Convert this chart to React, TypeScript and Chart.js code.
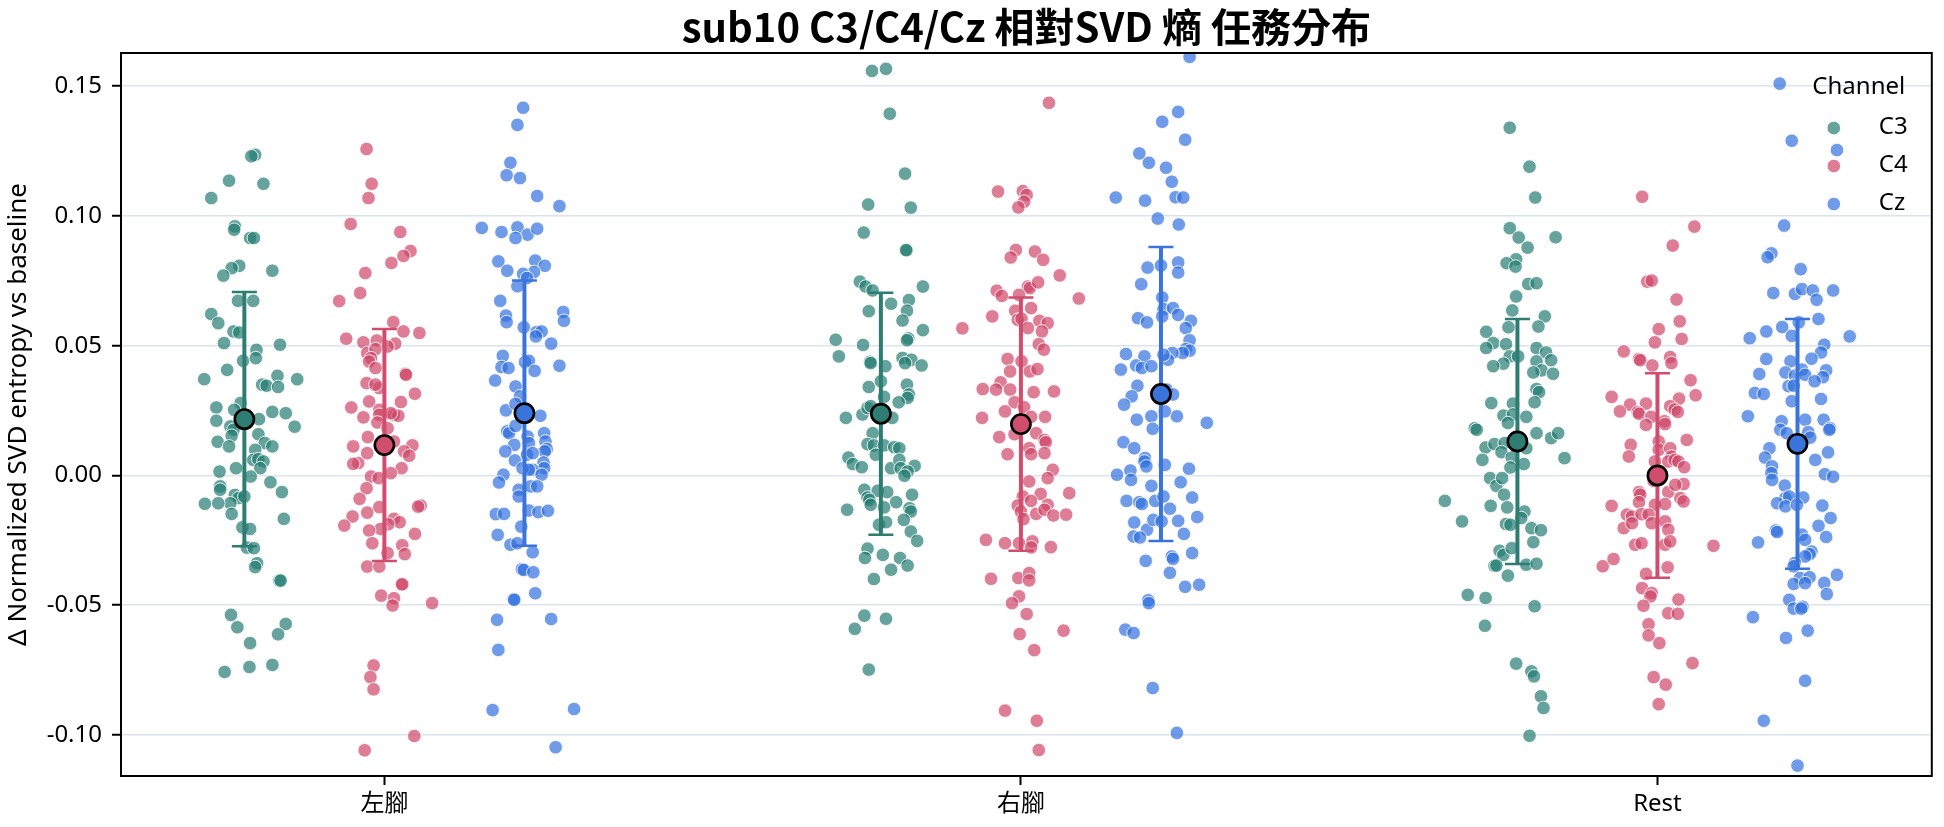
import React, { useEffect, useRef } from 'react';
import { Chart, registerables } from 'chart.js';

Chart.register(...registerables);

const FONT = '"Noto Sans", "Noto Sans CJK TC", sans-serif';
const TITLE_FONT = '"Noto Sans CJK TC", "Noto Sans", sans-serif';

const chartTitle = 'sub10 C3/C4/Cz 相對SVD 熵 任務分布';
const yAxisTitle = 'Δ Normalized SVD entropy vs baseline';
const legendTitle = 'Channel';

const conditions = ['左腳', '右腳', 'Rest'];
const channels = ['C3', 'C4', 'Cz'];
const yTickValues = [-0.1, -0.05, 0, 0.05, 0.1, 0.15];

// Each trial is [jitter, Δ entropy]; jitter is the strip spread in category units.
const leftC3: [number, number][] = [
  [0.017, 0.1236], [0.011, 0.123], [-0.024, 0.1136], [0.03, 0.1124], [-0.052, 0.1069], [-0.015, 0.096], [-0.016, 0.0947],
  [0.009, 0.0915], [0.015, 0.0915], [-0.008, 0.0808], [-0.02, 0.0799], [-0.033, 0.077], [0.044, 0.0789], [-0.01, 0.0673],
  [0.014, 0.0673], [-0.052, 0.0622], [-0.041, 0.0587], [-0.017, 0.0555], [-0.008, 0.0551], [-0.032, 0.051], [0.056, 0.0504],
  [0.019, 0.0484], [-0.002, 0.0442], [0.018, 0.0452], [-0.027, 0.0407], [-0.063, 0.0371], [0.052, 0.0384], [0.083, 0.0371],
  [0.028, 0.035], [0.035, 0.0346], [0.053, 0.0341], [-0.006, 0.0279], [-0.044, 0.0262], [-0.016, 0.0253], [0.044, 0.0245],
  [0.065, 0.024], [-0.044, 0.0211], [-0.022, 0.0189], [-0.017, 0.0176], [0.023, 0.0217], [0.079, 0.0188], [-0.02, 0.0153],
  [0.022, 0.0159], [-0.042, 0.013], [0.032, 0.0125], [-0.024, 0.0112], [0.044, 0.0112], [0.017, 0.0099], [0.014, 0.006],
  [0.022, 0.0063], [0.03, 0.0054], [0.025, 0.0028], [-0.039, 0.0015], [-0.013, 0.0028], [0.01, -0.0004], [0.041, -0.0026],
  [-0.038, -0.0042], [-0.038, -0.0055], [-0.015, -0.0075], [-0.009, -0.0087], [-0.022, -0.0107], [0.059, -0.0064],
  [-0.062, -0.0109], [-0.041, -0.0107], [-0.02, -0.0148], [0.0, -0.0081], [0.062, -0.0167], [-0.003, -0.02], [0.009, -0.0206],
  [0.004, -0.0278], [0.015, -0.028], [0.02, -0.0338], [0.017, -0.0353], [0.055, -0.0405], [0.057, -0.0405], [-0.021, -0.0537],
  [-0.011, -0.0585], [0.009, -0.0646], [0.065, -0.0572], [0.053, -0.0612], [-0.031, -0.0757], [0.008, -0.0738], [0.044, -0.073],
];

const leftC4: [number, number][] = [
  [-0.028, 0.1258], [-0.02, 0.1124], [-0.025, 0.1069], [-0.053, 0.0969], [0.025, 0.0938], [0.041, 0.0865], [0.03, 0.0846],
  [0.011, 0.0819], [-0.03, 0.078], [-0.038, 0.0703], [-0.071, 0.0672], [0.014, 0.0591], [0.03, 0.0555], [0.055, 0.0549],
  [-0.06, 0.0527], [-0.033, 0.0513], [-0.012, 0.052], [0.017, 0.0508], [0.005, 0.0497], [-0.027, 0.0472], [-0.014, 0.0487],
  [-0.021, 0.0452], [-0.024, 0.0439], [-0.014, 0.0414], [0.033, 0.0392], [0.034, 0.0388], [-0.028, 0.0356], [-0.008, 0.0337],
  [-0.014, 0.035], [0.048, 0.0315], [-0.024, 0.0285], [-0.008, 0.0253], [-0.052, 0.0262], [0.026, 0.0283], [0.015, 0.0234],
  [0.022, 0.023], [-0.033, 0.0224], [-0.008, 0.0234], [0.01, 0.024], [-0.011, 0.0204], [0.005, 0.0182], [-0.026, 0.0148],
  [-0.049, 0.0112], [0.015, 0.0131], [0.044, 0.0116], [0.031, 0.0093], [0.039, 0.0076], [-0.041, 0.0048], [-0.049, 0.0045],
  [-0.027, 0.0086], [0.027, 0.0028], [-0.021, -0.0004], [-0.009, -0.001], [0.01, 0.0009], [-0.028, -0.0049], [-0.039, -0.009],
  [0.057, -0.0116], [0.053, -0.012], [-0.008, -0.0122], [-0.027, -0.0143], [-0.05, -0.0158], [-0.063, -0.0193], [0.015, -0.0167],
  [0.024, -0.018], [0.006, -0.0188], [-0.006, -0.0206], [-0.024, -0.0212], [0.048, -0.0225], [-0.019, -0.0261], [0.005, -0.0299],
  [0.028, -0.0269], [0.032, -0.0303], [-0.027, -0.0351], [-0.008, -0.0351], [0.027, -0.0421], [0.028, -0.0419], [-0.005, -0.0463],
  [0.015, -0.0473], [0.013, -0.0501], [0.075, -0.0492], [-0.017, -0.0732], [-0.022, -0.0777], [-0.017, -0.0824], [0.047, -0.1004],
  [-0.031, -0.1059],
];

const leftCz: [number, number][] = [
  [-0.002, 0.1417], [-0.011, 0.1351], [-0.022, 0.1205], [-0.028, 0.1157], [-0.007, 0.1146], [0.02, 0.1077], [0.055, 0.1038],
  [-0.067, 0.0954], [-0.036, 0.0938], [-0.011, 0.0956], [0.005, 0.0928], [-0.014, 0.0915], [0.02, 0.0951], [-0.041, 0.0825],
  [-0.027, 0.0789], [0.017, 0.0828], [0.032, 0.0808], [0.015, 0.0784], [-0.002, 0.0777], [0.004, 0.0761], [-0.011, 0.0729],
  [-0.038, 0.0673], [-0.029, 0.0616], [-0.028, 0.0591], [0.061, 0.063], [0.062, 0.0596], [-0.001, 0.0571], [0.019, 0.0553],
  [0.027, 0.0555], [0.018, 0.0536], [0.042, 0.0508], [-0.034, 0.0461], [-0.036, 0.0418], [-0.025, 0.0414], [0.001, 0.0437],
  [0.007, 0.0442], [0.016, 0.0403], [0.055, 0.0423], [-0.046, 0.0366], [-0.014, 0.0343], [-0.007, 0.0305], [-0.029, 0.0251],
  [-0.014, 0.0276], [0.025, 0.023], [-0.027, 0.017], [-0.024, 0.0163], [-0.014, 0.0191], [0.005, 0.015], [0.007, 0.0125],
  [0.031, 0.0163], [0.033, 0.0131], [-0.016, 0.0118], [-0.03, 0.0093], [0.035, 0.0102], [0.032, 0.0093], [-0.015, 0.0058],
  [0.004, 0.008], [0.013, 0.0086], [0.03, 0.005], [0.031, 0.0028], [0.013, 0.0022], [-0.003, 0.0028], [0.007, 0.0022],
  [-0.033, 0.0003], [-0.04, -0.0027], [0.027, 0.0003], [0.01, -0.0042], [0.02, -0.0042], [-0.009, -0.0055], [-0.009, -0.0081],
  [-0.045, -0.0149], [-0.032, -0.0148], [0.007, -0.0135], [0.022, -0.0141], [0.037, -0.0136], [-0.005, -0.0197], [-0.042, -0.0229],
  [-0.022, -0.0267], [-0.011, -0.0261], [0.013, -0.0296], [-0.004, -0.0361], [-0.001, -0.0364], [0.014, -0.0373], [0.017, -0.0454],
  [-0.017, -0.0477], [-0.016, -0.0479], [-0.043, -0.0556], [0.042, -0.0553], [-0.041, -0.0672], [-0.05, -0.0904], [0.078, -0.09],
  [0.049, -0.1047],
];

const rightC3: [number, number][] = [
  [-0.014, 0.1559], [0.008, 0.1567], [0.014, 0.1394], [0.038, 0.1163], [-0.02, 0.1044], [0.047, 0.1032], [-0.027, 0.0936],
  [0.039, 0.087], [0.04, 0.0868], [-0.033, 0.0747], [-0.024, 0.0728], [-0.013, 0.0713], [0.066, 0.0728], [0.044, 0.0676],
  [0.016, 0.0662], [-0.019, 0.0633], [0.041, 0.0635], [0.034, 0.0597], [-0.071, 0.0523], [-0.028, 0.0503], [0.066, 0.056],
  [0.043, 0.0528], [0.041, 0.0521], [-0.066, 0.0459], [-0.017, 0.0438], [-0.016, 0.0433], [0.007, 0.0421], [0.034, 0.0453],
  [0.048, 0.0446], [0.038, 0.0433], [0.064, 0.0424], [-0.019, 0.0341], [0.0, 0.0363], [0.041, 0.035], [0.044, 0.0312],
  [0.042, 0.0299], [0.028, 0.0282], [0.005, 0.0303], [-0.055, 0.0222], [-0.029, 0.0235], [-0.021, 0.026], [-0.016, 0.0267],
  [0.018, 0.0222], [-0.013, 0.0163], [-0.021, 0.0121], [-0.011, 0.0116], [0.005, 0.0116], [0.021, 0.0109], [0.029, 0.0105],
  [-0.008, 0.008], [-0.051, 0.0069], [-0.044, 0.0044], [-0.03, 0.0032], [0.016, 0.0028], [0.029, 0.006], [0.031, 0.0028],
  [0.053, 0.0037], [0.042, 0.0015], [0.037, -0.0001], [-0.026, -0.0055], [-0.005, -0.0059], [-0.021, -0.0085], [-0.018, -0.0094],
  [-0.016, -0.0113], [0.01, -0.0064], [0.024, -0.0103], [0.049, -0.0074], [0.045, -0.0126], [0.047, -0.0139], [0.005, -0.0123],
  [-0.053, -0.0132], [-0.003, -0.019], [0.008, -0.018], [0.036, -0.0171], [0.047, -0.0216], [0.057, -0.0252], [-0.021, -0.0282],
  [-0.025, -0.0318], [0.003, -0.0306], [0.03, -0.0318], [0.042, -0.0347], [0.016, -0.0363], [-0.011, -0.0399], [-0.026, -0.054],
  [0.008, -0.0552], [-0.041, -0.0591], [-0.019, -0.0748],
];

const rightC4: [number, number][] = [
  [0.044, 0.1436], [-0.036, 0.1094], [0.003, 0.1096], [0.009, 0.1081], [0.005, 0.1055], [-0.004, 0.1033], [-0.008, 0.0869],
  [-0.016, 0.084], [0.022, 0.0863], [0.035, 0.0831], [0.061, 0.0771], [-0.038, 0.0712], [-0.03, 0.0692], [0.011, 0.0728],
  [0.014, 0.0722], [0.027, 0.0744], [0.091, 0.0682], [-0.003, 0.0696], [0.016, 0.0645], [-0.009, 0.0635], [-0.045, 0.0613],
  [-0.005, 0.06], [0.001, 0.0604], [0.029, 0.0596], [0.042, 0.0587], [0.011, 0.0568], [0.033, 0.0555], [-0.092, 0.0567],
  [0.028, 0.0506], [0.036, 0.0485], [-0.021, 0.0449], [0.001, 0.044], [-0.017, 0.0401], [0.014, 0.0401], [0.026, 0.041],
  [-0.032, 0.0359], [-0.06, 0.0333], [-0.039, 0.0331], [-0.017, 0.0331], [0.02, 0.0321], [0.052, 0.0324], [-0.01, 0.0282],
  [-0.025, 0.0247], [0.005, 0.0263], [0.016, 0.0226], [0.038, 0.0226], [-0.061, 0.0222], [-0.034, 0.0148], [-0.01, 0.0159],
  [0.024, 0.0163], [0.037, 0.0137], [0.039, 0.0128], [-0.021, 0.0082], [0.013, 0.0105], [0.016, 0.0082], [0.037, 0.0086],
  [0.05, 0.0022], [0.042, -0.001], [0.013, -0.0023], [0.031, -0.0071], [0.076, -0.0068], [0.003, -0.0081], [0.016, -0.0098],
  [0.042, -0.0113], [-0.005, -0.0116], [0.024, -0.0148], [0.037, -0.0132], [0.051, -0.0154], [0.071, -0.0151], [0.0, -0.0139],
  [0.004, -0.0168], [-0.055, -0.0248], [-0.025, -0.0261], [-0.003, -0.0261], [0.018, -0.0254], [0.047, -0.0276], [0.016, -0.0277],
  [-0.047, -0.0398], [-0.004, -0.0395], [0.013, -0.0376], [0.013, -0.0404], [-0.003, -0.0466], [-0.014, -0.0492], [0.009, -0.0534],
  [-0.002, -0.0611], [0.067, -0.0598], [0.021, -0.0673], [-0.025, -0.0906], [0.025, -0.0945], [0.028, -0.1058],
];

const rightCz: [number, number][] = [
  [0.045, 0.1613], [0.027, 0.1401], [0.002, 0.1363], [0.038, 0.1294], [-0.034, 0.1241], [-0.019, 0.1205], [0.008, 0.1186],
  [0.017, 0.1132], [-0.071, 0.1071], [-0.025, 0.1059], [0.023, 0.1072], [0.035, 0.1071], [-0.005, 0.099], [0.028, 0.0967],
  [-0.021, 0.0801], [0.0, 0.0809], [0.027, 0.0821], [0.027, 0.0782], [-0.031, 0.0737], [0.002, 0.0686], [0.004, 0.0641],
  [0.019, 0.0645], [0.002, 0.0613], [0.027, 0.0619], [-0.036, 0.0606], [-0.022, 0.059], [0.047, 0.0596], [0.039, 0.0568],
  [0.045, 0.0521], [0.039, 0.0487], [0.045, 0.0481], [0.034, 0.0472], [0.018, 0.0472], [0.011, 0.0446], [0.004, 0.0465],
  [-0.055, 0.0468], [-0.026, 0.0459], [-0.039, 0.0424], [-0.03, 0.0414], [-0.015, 0.0421], [-0.063, 0.0408], [-0.037, 0.0346],
  [-0.046, 0.0305], [-0.058, 0.0273], [0.009, 0.0331], [0.019, 0.0312], [-0.038, 0.0215], [-0.015, 0.0228], [0.025, 0.0228],
  [0.006, 0.0247], [0.072, 0.0203], [-0.013, 0.018], [-0.059, 0.0128], [-0.042, 0.0105], [-0.025, 0.0067], [-0.026, 0.0054],
  [-0.023, 0.0035], [0.006, 0.0041], [0.044, 0.0026], [-0.069, 0.0003], [-0.048, 0.0019], [-0.047, -0.0017], [-0.015, -0.004],
  [0.031, -0.0026], [-0.054, -0.0098], [-0.034, -0.0103], [-0.03, -0.011], [-0.009, -0.0098], [0.004, -0.0081], [0.014, -0.0128],
  [0.049, -0.0085], [-0.042, -0.0181], [-0.022, -0.0209], [-0.012, -0.0171], [0.001, -0.0177], [0.027, -0.0175], [0.057, -0.016],
  [0.036, -0.0225], [-0.043, -0.0235], [-0.033, -0.0239], [0.017, -0.0312], [0.019, -0.0321], [0.049, -0.0299], [-0.024, -0.0329],
  [0.014, -0.0375], [0.038, -0.0429], [0.06, -0.0421], [-0.02, -0.0481], [-0.019, -0.0492], [-0.056, -0.0594], [-0.043, -0.0607],
  [-0.013, -0.0819], [0.025, -0.0992],
];

const restC3: [number, number][] = [
  [-0.012, 0.134], [0.019, 0.119], [0.028, 0.1071], [-0.012, 0.0953], [0.002, 0.0917], [0.016, 0.0878], [0.06, 0.0918],
  [-0.002, 0.0833], [-0.017, 0.0818], [-0.003, 0.0805], [0.017, 0.0738], [0.03, 0.0741], [-0.002, 0.069], [-0.008, 0.0636],
  [0.043, 0.0613], [0.033, 0.0574], [-0.014, 0.0571], [-0.049, 0.0554], [-0.038, 0.051], [-0.049, 0.0491], [-0.018, 0.0506],
  [0.03, 0.0491], [0.045, 0.0474], [0.053, 0.0444], [0.03, 0.044], [-0.012, 0.0459], [0.001, 0.0459], [-0.022, 0.0431],
  [-0.038, 0.0421], [0.038, 0.0405], [0.025, 0.0397], [0.056, 0.0392], [0.03, 0.0333], [0.034, 0.0321], [0.027, 0.0282],
  [-0.041, 0.0279], [-0.007, 0.0277], [-0.022, 0.0231], [-0.007, 0.0235], [0.014, 0.0226], [-0.067, 0.0182], [-0.064, 0.0176],
  [-0.015, 0.0202], [0.03, 0.0163], [0.053, 0.0144], [0.064, 0.0163], [-0.05, 0.0108], [-0.036, 0.0121], [-0.02, 0.0125],
  [-0.025, 0.009], [0.014, 0.0105], [0.074, 0.0067], [-0.055, 0.006], [-0.009, 0.0069], [0.01, 0.0044], [-0.011, 0.0031],
  [-0.043, -0.001], [-0.033, -0.004], [-0.024, -0.001], [-0.021, -0.0074], [-0.114, -0.0098], [-0.042, -0.0117], [-0.016, -0.0123],
  [0.011, -0.0139], [0.006, -0.0164], [-0.087, -0.0177], [-0.018, -0.0187], [-0.011, -0.019], [0.022, -0.0203], [0.037, -0.0211],
  [0.025, -0.0257], [-0.028, -0.029], [-0.022, -0.0306], [-0.009, -0.028], [-0.036, -0.0348], [-0.033, -0.0347], [0.014, -0.0344],
  [0.03, -0.034], [-0.015, -0.0386], [-0.078, -0.046], [-0.05, -0.0472], [0.027, -0.0504], [-0.051, -0.0579], [-0.002, -0.0725],
  [0.022, -0.0755], [0.026, -0.0774], [0.037, -0.0851], [0.041, -0.0896], [0.019, -0.1003],
];

const restC4: [number, number][] = [
  [-0.024, 0.1074], [0.058, 0.0959], [0.024, 0.0886], [-0.016, 0.0747], [-0.009, 0.0751], [0.03, 0.0678], [0.035, 0.0594],
  [0.002, 0.0564], [-0.004, 0.0513], [0.038, 0.0526], [-0.053, 0.0478], [-0.029, 0.0449], [-0.027, 0.0444], [-0.008, 0.0424],
  [0.02, 0.0456], [0.022, 0.0433], [0.052, 0.0367], [0.06, 0.0309], [-0.072, 0.0303], [-0.043, 0.0273], [-0.018, 0.0277],
  [-0.059, 0.0247], [-0.031, 0.0244], [-0.029, 0.0238], [0.034, 0.0296], [0.02, 0.0267], [0.027, 0.0254], [0.032, 0.0245],
  [-0.01, 0.0226], [0.011, 0.0209], [-0.018, 0.0195], [0.012, 0.0198], [-0.042, 0.0118], [-0.045, 0.0073], [0.002, 0.0131],
  [0.002, 0.0099], [0.046, 0.0137], [0.02, 0.0105], [0.022, 0.0073], [-0.004, 0.0054], [0.017, 0.0054], [0.027, 0.006],
  [0.033, 0.0054], [0.042, 0.0032], [-0.029, -0.0064], [-0.027, -0.0074], [-0.006, -0.0021], [0.017, -0.0064], [0.041, -0.0033],
  [0.028, -0.0036], [0.036, -0.0087], [0.041, -0.01], [-0.072, -0.0117], [-0.029, -0.0103], [-0.004, -0.0113], [0.012, -0.011],
  [-0.048, -0.0151], [-0.04, -0.0158], [-0.025, -0.0149], [-0.014, -0.0151], [-0.009, -0.0184], [0.012, -0.0177], [0.017, -0.0209],
  [-0.053, -0.0203], [-0.04, -0.0184], [-0.035, -0.0267], [-0.025, -0.0261], [0.012, -0.0267], [0.02, -0.0254], [0.088, -0.0271],
  [-0.086, -0.035], [-0.069, -0.0322], [0.016, -0.0354], [-0.018, -0.0379], [-0.024, -0.0434], [-0.009, -0.0453], [-0.011, -0.0466],
  [0.033, -0.0478], [-0.022, -0.0502], [0.017, -0.0531], [0.032, -0.0533], [-0.014, -0.0573], [-0.014, -0.0616], [0.003, -0.0646],
  [0.055, -0.0723], [-0.006, -0.0777], [0.013, -0.0806], [0.002, -0.0881],
];

const restCz: [number, number][] = [
  [-0.028, 0.151], [-0.009, 0.129], [0.062, 0.1254], [-0.021, 0.0963], [-0.041, 0.0856], [-0.047, 0.0841], [0.005, 0.0795],
  [-0.038, 0.0703], [-0.004, 0.07], [0.007, 0.0718], [0.024, 0.0713], [0.03, 0.0677], [0.056, 0.0713], [0.033, 0.0603],
  [0.002, 0.059], [-0.075, 0.0529], [-0.049, 0.0555], [-0.024, 0.0572], [-0.009, 0.0538], [0.082, 0.0536], [0.042, 0.0504],
  [0.037, 0.0474], [-0.049, 0.0449], [-0.011, 0.044], [0.022, 0.045], [-0.06, 0.0391], [-0.019, 0.0397], [-0.004, 0.0385],
  [0.007, 0.0408], [0.012, 0.0388], [0.045, 0.0405], [0.04, 0.0379], [0.027, 0.0363], [-0.014, 0.0344], [-0.006, 0.0346],
  [-0.067, 0.0318], [-0.053, 0.0314], [-0.009, 0.0286], [0.037, 0.0295], [-0.078, 0.0228], [-0.025, 0.0209], [0.012, 0.0215],
  [0.041, 0.0215], [0.051, 0.0182], [0.05, 0.0176], [-0.027, 0.0176], [-0.017, 0.0163], [0.017, 0.0167], [0.02, 0.0146],
  [-0.044, 0.0105], [0.048, 0.0089], [-0.051, 0.0069], [0.028, 0.006], [-0.04, 0.0035], [-0.041, 0.0009], [-0.04, -0.0017],
  [0.043, 0.0005], [0.056, -0.0005], [-0.02, -0.0039], [-0.019, -0.0087], [-0.013, -0.0081], [-0.032, -0.0107], [-0.019, -0.0119],
  [0.009, -0.0085], [-0.001, -0.0113], [0.039, -0.0116], [0.052, -0.0164], [0.033, -0.0194], [0.045, -0.0237], [-0.034, -0.0212],
  [-0.032, -0.0218], [-0.062, -0.0258], [0.007, -0.0228], [0.012, -0.0248], [0.022, -0.0293], [0.019, -0.0303], [0.012, -0.0312],
  [-0.004, -0.0337], [-0.006, -0.035], [0.004, -0.0395], [0.019, -0.0392], [0.062, -0.0383], [0.042, -0.0414], [0.046, -0.0457],
  [-0.006, -0.0418], [0.012, -0.0415], [-0.013, -0.0479], [-0.006, -0.0513], [0.008, -0.0506], [0.006, -0.0513], [-0.07, -0.0546],
  [-0.018, -0.0626], [0.016, -0.0598], [0.012, -0.0791], [-0.053, -0.0945], [0.0, -0.1118],
];

// Mean and standard deviation per condition (左腳, 右腳, Rest)
const meanC3 = [0.0217, 0.0238, 0.0131];
const sdC3 = [0.049, 0.0466, 0.0472];
const meanC4 = [0.0117, 0.0198, 0.0];
const sdC4 = [0.0447, 0.0488, 0.0394];
const meanCz = [0.024, 0.0314, 0.0122];
const sdCz = [0.0511, 0.0566, 0.0481];

const trialsByChannel = [
  [leftC3, rightC3, restC3],
  [leftC4, rightC4, restC4],
  [leftCz, rightCz, restCz],
];
const meansByChannel = [meanC3, meanC4, meanCz];
const sdsByChannel = [sdC3, sdC4, sdCz];

const solidColors = ['#2e7d72', '#d04d6e', '#3a74da'];
const pointColors = ['rgba(36,124,114,0.7)', 'rgba(208,70,105,0.7)', 'rgba(50,112,222,0.7)'];
const pointEdge = 'rgba(255,255,255,0.85)';
const dodge = [-0.22, 0, 0.22];
const MEAN_INDEX = channels.length;
const POINT_R = 6.8;

const errorBarPlugin = {
  id: 'errorBars',
  beforeDatasetDraw(chart: any, args: any) {
    if (args.index !== MEAN_INDEX) return;
    const { ctx } = chart;
    const xs = chart.scales.x;
    const ys = chart.scales.y;
    ctx.save();
    ctx.lineCap = 'butt';
    channels.forEach((_, c) => {
      conditions.forEach((__, i) => {
        const px = xs.getPixelForValue(i + dodge[c]);
        const hi = ys.getPixelForValue(meansByChannel[c][i] + sdsByChannel[c][i]);
        const lo = ys.getPixelForValue(meansByChannel[c][i] - sdsByChannel[c][i]);
        ctx.strokeStyle = solidColors[c];
        ctx.lineWidth = 4;
        ctx.beginPath();
        ctx.moveTo(px, hi);
        ctx.lineTo(px, lo);
        ctx.stroke();
        ctx.lineWidth = 2.5;
        ctx.beginPath();
        ctx.moveTo(px - 12.5, hi);
        ctx.lineTo(px + 12.5, hi);
        ctx.moveTo(px - 12.5, lo);
        ctx.lineTo(px + 12.5, lo);
        ctx.stroke();
      });
    });
    ctx.restore();
  },
};

const framePlugin = {
  id: 'frame',
  afterDatasetsDraw(chart: any) {
    const { ctx, chartArea: a } = chart;
    ctx.save();
    ctx.strokeStyle = '#000';
    ctx.lineWidth = 2;
    ctx.strokeRect(a.left, a.top, a.right - a.left, a.bottom - a.top);
    ctx.restore();
  },
};

const headerPlugin = {
  id: 'header',
  afterDraw(chart: any) {
    const { ctx, chartArea: a } = chart;
    ctx.save();
    // title
    ctx.fillStyle = '#000';
    ctx.font = `bold 40px ${TITLE_FONT}`;
    ctx.textAlign = 'center';
    ctx.textBaseline = 'middle';
    ctx.fillText(chartTitle, (a.left + a.right) / 2, 27);
    // legend
    ctx.font = `24px ${FONT}`;
    ctx.fillText(legendTitle, a.right - 73, a.top + 34);
    channels.forEach((name, c) => {
      const y = a.top + 75 + c * 38;
      ctx.beginPath();
      ctx.arc(a.right - 98, y, POINT_R, 0, Math.PI * 2);
      ctx.fillStyle = pointColors[c];
      ctx.fill();
      ctx.strokeStyle = pointEdge;
      ctx.lineWidth = 1;
      ctx.stroke();
      ctx.fillStyle = '#000';
      ctx.textAlign = 'left';
      ctx.fillText(name, a.right - 53, y - 1);
    });
    ctx.restore();
  },
};

export default function App() {
  const canvasRef = useRef<HTMLCanvasElement | null>(null);

  useEffect(() => {
    const canvas = canvasRef.current;
    if (!canvas) return;

    const pointSets = channels.map((name, c) => ({
      type: 'scatter' as const,
      label: name,
      data: conditions.flatMap((_, i) =>
        trialsByChannel[c][i].map(([jitter, value]) => ({ x: i + dodge[c] + jitter, y: value }))
      ),
      backgroundColor: pointColors[c],
      borderColor: pointEdge,
      pointRadius: POINT_R,
      pointBorderWidth: 1,
      clip: 0,
      order: 2,
    }));

    const meanPoints: { x: number; y: number }[] = [];
    const meanFill: string[] = [];
    conditions.forEach((_, i) => {
      channels.forEach((__, c) => {
        meanPoints.push({ x: i + dodge[c], y: meansByChannel[c][i] });
        meanFill.push(solidColors[c]);
      });
    });

    const chart = new Chart(canvas, {
      type: 'scatter',
      data: {
        datasets: [
          ...pointSets,
          {
            type: 'scatter',
            label: 'mean',
            data: meanPoints,
            backgroundColor: meanFill,
            borderColor: '#000',
            pointRadius: 9.6,
            pointBorderWidth: 2.6,
            clip: false,
            order: 0,
          } as any,
        ],
      },
      options: {
        responsive: false,
        animation: false,
        devicePixelRatio: 1,
        events: [],
        layout: { padding: { top: 53, right: 8, left: 0, bottom: 0 } },
        plugins: {
          legend: { display: false },
          tooltip: { enabled: false },
          title: { display: false },
        },
        scales: {
          x: {
            type: 'linear',
            min: -0.4138,
            max: 2.431,
            afterBuildTicks: (scale: any) => {
              scale.ticks = conditions.map((_, i) => ({ value: i }));
            },
            afterFit: (scale: any) => {
              scale.height = 51;
            },
            ticks: {
              callback: (v: any) => conditions[Math.round(Number(v))] ?? '',
              font: { family: FONT, size: 24 },
              color: '#000',
              padding: 5,
              autoSkip: false,
              maxRotation: 0,
            },
            grid: {
              display: true,
              drawOnChartArea: false,
              drawTicks: true,
              tickLength: 9,
              tickWidth: 2,
              tickColor: '#000',
            },
            border: { display: false },
          },
          y: {
            type: 'linear',
            min: -0.1158,
            max: 0.1628,
            afterBuildTicks: (scale: any) => {
              scale.ticks = yTickValues.map((v) => ({ value: v }));
            },
            afterFit: (scale: any) => {
              scale.width = 121;
            },
            ticks: {
              callback: (v: any) => Number(v).toFixed(2),
              font: { family: FONT, size: 24 },
              color: '#000',
              padding: 10,
            },
            grid: {
              color: '#dbe3ec',
              lineWidth: 1.5,
              drawTicks: true,
              tickLength: 9,
              tickWidth: 2,
              tickColor: '#000',
            },
            border: { display: false },
            title: {
              display: true,
              text: yAxisTitle,
              font: { family: FONT, size: 26 },
              color: '#000',
              padding: { top: 3, bottom: 0 },
            },
          },
        },
      },
      plugins: [errorBarPlugin, framePlugin, headerPlugin],
    } as any);

    return () => chart.destroy();
  }, []);

  return (
    <div style={{ position: 'fixed', left: 0, top: 0, width: 1944, height: 827, background: '#fff' }}>
      <canvas ref={canvasRef} width={1944} height={827} style={{ display: 'block' }} />
    </div>
  );
}
